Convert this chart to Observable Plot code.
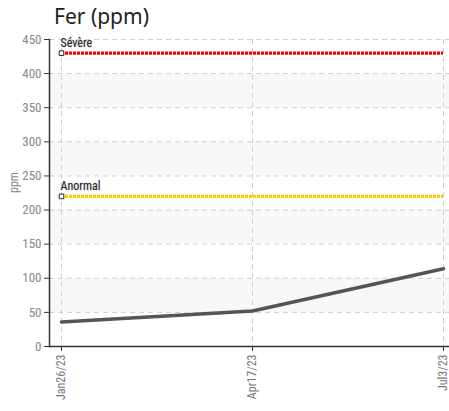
<!DOCTYPE html>
<html>
<head>
<meta charset="utf-8">
<script src="https://cdn.jsdelivr.net/npm/d3@7"></script>
<script src="https://cdn.jsdelivr.net/npm/@observablehq/plot@0.6"></script>
<style>
  body { margin: 0; background: #fff; }
  #title { position: absolute; left: 54px; top: 2px; font-family: "Noto Sans", "Open Sans", sans-serif; font-size: 21px; color: #222; line-height: 28px; }
  #chart { position: absolute; left: 0; top: 32px; }
</style>
</head>
<body>
<div id="title">Fer (ppm)</div>
<div id="chart"></div>
<script>
const dates = ["Jan26/23", "Apr17/23", "Jul3/23"];
const values = [36, 52, 114];
const thresholdNames = ["Sévère", "Anormal"];
const thresholdValues = [430, 220];
const thresholdColors = ["#ff0000", "#ffcc00"];
const yTicks = [0, 50, 100, 150, 200, 250, 300, 350, 400, 450];
const bands = [[50, 100], [150, 200], [250, 300], [350, 400]];

const font = '"Roboto Condensed", "DejaVu Sans Condensed", "Liberation Sans Narrow", sans-serif';
const series = dates.map((d, i) => ({date: d, value: values[i]}));
const thresholds = thresholdNames.map((n, i) => ({
  name: n, value: thresholdValues[i], color: thresholdColors[i],
  x1: dates[0], x2: dates[dates.length - 1]
}));
const bandData = bands.map(([a, b]) => ({a, b}));

const W = 449, H = 379;
const plot = Plot.plot({
  width: W,
  height: H,
  marginTop: 7,
  marginLeft: 49,
  marginRight: 0,
  marginBottom: 65,
  style: {fontFamily: font, fontSize: "12px", background: "#fff"},
  x: {type: "point", domain: dates, range: [61, 443], padding: 0, label: null},
  y: {domain: [0, 450], ticks: yTicks, label: null},
  marks: [
    Plot.rect(bandData, {y1: "a", y2: "b", fill: "#f8f8f8"}),
    Plot.gridY(yTicks, {stroke: "#cfcfcf", strokeOpacity: 1, strokeDasharray: "5,4"}),
    Plot.gridX(dates, {stroke: "#cfcfcf", strokeOpacity: 1, strokeDasharray: "5,4"}),
    Plot.axisY(yTicks, {tickSize: 5, tickPadding: 3, fill: "#888", stroke: "#333", fontSize: 13}),
    Plot.axisX(dates, {tickSize: 5, tickRotate: -90, fill: "#777", stroke: "#333", fontSize: 12, tickPadding: 3}),
    Plot.ruleY([0], {stroke: "#333", strokeWidth: 1.5}),
    Plot.frame({anchor: "left", stroke: "#333", strokeWidth: 1.5}),
    Plot.ruleY(thresholds, {y: "value", x1: "x1", x2: "x2", stroke: "color", strokeWidth: 3.2, strokeDasharray: "3,1"}),
    Plot.dot(thresholds, {x: "x1", y: "value", symbol: "square", r: 2.6, fill: "#fff", stroke: "#222", strokeWidth: 1}),
    Plot.text(thresholds, {x: "x1", y: "value", text: "name", textAnchor: "start", dx: -1, dy: -10, fill: "#222", fontSize: 12, stroke: "#ccc", strokeWidth: 0.6, paintOrder: "stroke"}),
    Plot.line(series, {x: "date", y: "value", stroke: "#555", strokeWidth: 3.5}),
    Plot.text(["ppm"], {frameAnchor: "left", dx: -35, dy: 0, rotate: -90, fill: "#888", fontSize: 12, text: d => d})
  ]
});
document.getElementById("chart").appendChild(plot);
</script>
</body>
</html>
